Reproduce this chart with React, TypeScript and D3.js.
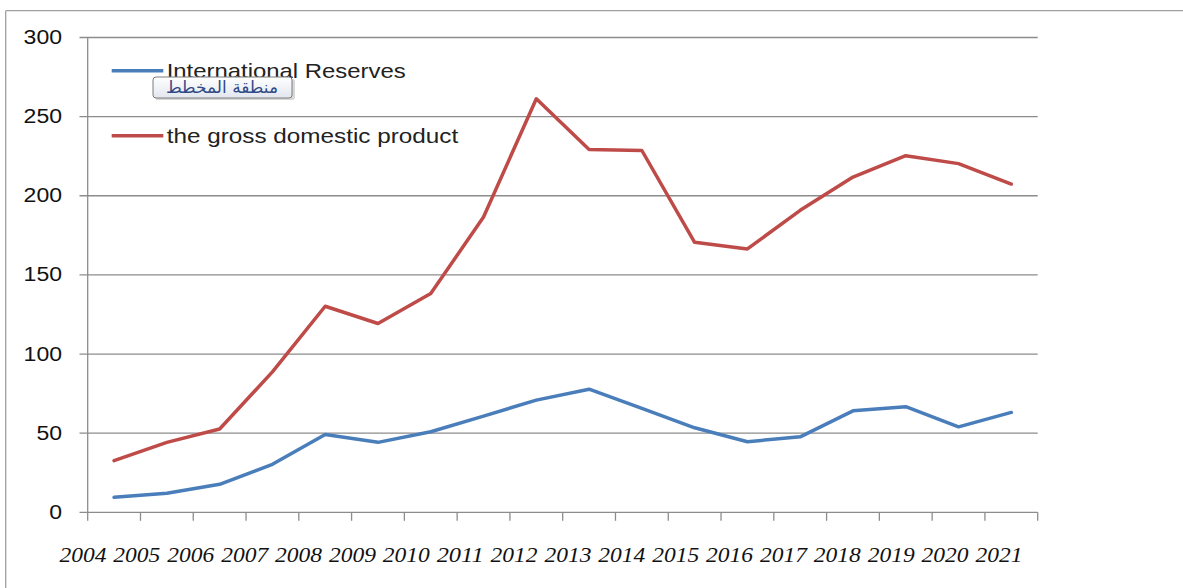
import React from "react";
import * as d3 from "d3";

const years = ["2004","2005","2006","2007","2008","2009","2010","2011","2012","2013","2014","2015","2016","2017","2018","2019","2020","2021"];
const reserves = [9.5, 12, 17.7, 30.3, 49.2, 44.2, 50.9, 60.8, 70.9, 77.8, 65.6, 53.4, 44.6, 47.7, 64.1, 66.7, 54, 63.1];
const gdp = [32.6, 44.2, 52.6, 88.7, 130.2, 119.3, 138.2, 186.6, 261.3, 229.3, 228.6, 170.6, 166.4, 190.8, 211.8, 225.3, 220.3, 207.4];
const yTicks = [0, 50, 100, 150, 200, 250, 300];
const seriesNames = ["International Reserves", "the gross domestic product"];
const tooltipText = "منطقة المخطط";

const W = 1183, H = 588;
const left = 87.7, right = 1037.7, top = 37.5, bottom = 512.3;

export default function App() {
  const x = d3.scaleBand<string>().domain(years).range([left, right]).padding(0);
  const xl = d3.scalePoint<string>().domain(years).range([83, 999]);
  const y = d3.scaleLinear().domain([0, 300]).range([bottom, top]);
  const line = d3.line<number>()
    .x((_, i) => (x(years[i]) as number) + x.bandwidth() / 2)
    .y((d) => y(d));
  const gridColor = "#8c8c8c";
  const blue = "#4A7EBB";
  const red = "#BE4B48";
  const edges = years.map((yr) => x(yr) as number).concat([right]);
  return (
    <svg width={W} height={H} style={{ position: "absolute", left: 0, top: 0, display: "block", background: "#fff" }}>
      <defs>
        <linearGradient id="tipg" x1="0" y1="0" x2="0" y2="1">
          <stop offset="0" stopColor="#ffffff" />
          <stop offset="1" stopColor="#e2e6ee" />
        </linearGradient>
      </defs>
      {/* outer frame */}
      <line x1={5.7} y1={10.7} x2={W} y2={10.7} stroke="#a0a0a0" strokeWidth={1.3} />
      <line x1={5.7} y1={10.7} x2={5.7} y2={H} stroke="#a0a0a0" strokeWidth={1.3} />
      {/* gridlines + y labels */}
      {yTicks.map((t) => (
        <g key={t}>
          <line x1={79.5} x2={right} y1={y(t)} y2={y(t)} stroke={gridColor} strokeWidth={1.3} />
          <text x={62} y={y(t) + 6.5} textAnchor="end" fontFamily="Liberation Sans, Arial, sans-serif" fontSize={20} fill="#111" textLength={String(t).length * 12.8} lengthAdjust="spacingAndGlyphs">{t}</text>
        </g>
      ))}
      {/* y axis */}
      <line x1={left} x2={left} y1={top} y2={bottom} stroke={gridColor} strokeWidth={1.3} />
      {/* x ticks */}
      {edges.map((e, i) => (
        <line key={i} x1={e} x2={e} y1={bottom} y2={bottom + 8.5} stroke={gridColor} strokeWidth={1.3} />
      ))}
      {/* x labels */}
      {years.map((yr) => (
        <text key={yr} x={xl(yr)} y={562} textAnchor="middle" fontFamily="Liberation Serif, Times New Roman, serif" fontStyle="italic" fontSize={22} fill="#111" textLength={47} lengthAdjust="spacingAndGlyphs">{yr}</text>
      ))}
      {/* series */}
      <path d={line(reserves) || ""} fill="none" stroke={blue} strokeWidth={3.5} strokeLinejoin="round" strokeLinecap="round" />
      <path d={line(gdp) || ""} fill="none" stroke={red} strokeWidth={3.5} strokeLinejoin="round" strokeLinecap="round" />
      {/* legend */}
      <line x1={111.7} x2={163.3} y1={70.7} y2={70.7} stroke={blue} strokeWidth={3.5} />
      <text x={166.7} y={77.5} fontFamily="Liberation Sans, Arial, sans-serif" fontSize={21} fill="#222" textLength={239} lengthAdjust="spacingAndGlyphs">{seriesNames[0]}</text>
      <line x1={111.7} x2={163.3} y1={135.7} y2={135.7} stroke={red} strokeWidth={3.5} />
      <text x={166.7} y={142.5} fontFamily="Liberation Sans, Arial, sans-serif" fontSize={21} fill="#222" textLength={291.5} lengthAdjust="spacingAndGlyphs">{seriesNames[1]}</text>
      {/* tooltip */}
      <rect x={155} y={79} width={140} height={21} rx={3} fill="#bdbdbd" opacity={0.6} />
      <rect x={153} y={77} width={139} height={21} rx={3} fill="url(#tipg)" stroke="#7d7d7d" strokeWidth={1} />
      <text x={222} y={93} textAnchor="middle" fontFamily="DejaVu Sans, Noto Sans, sans-serif" fontSize={17} fill="#2f4a86" direction="rtl">{tooltipText}</text>
    </svg>
  );
}
